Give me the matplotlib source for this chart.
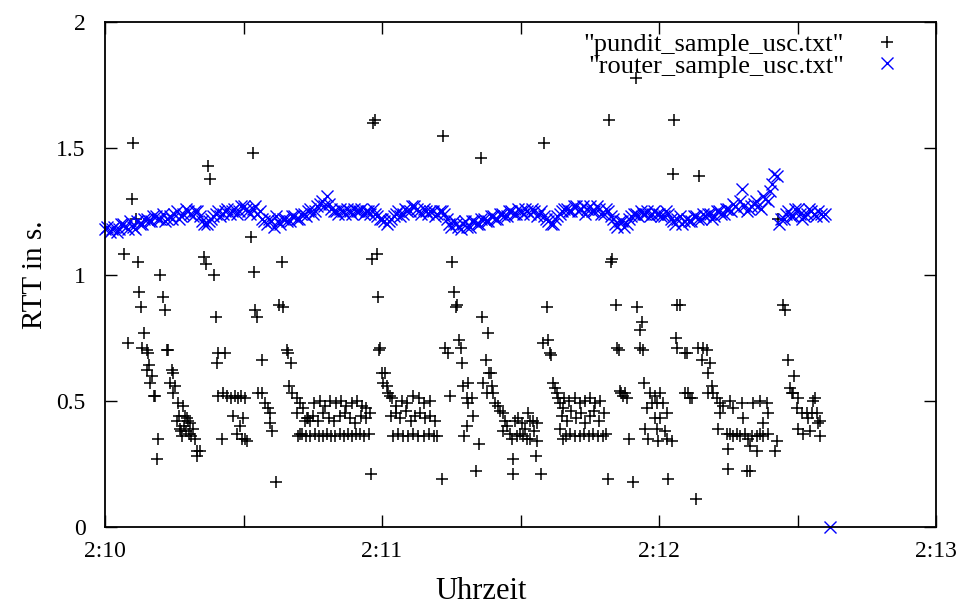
import numpy as np
import matplotlib
matplotlib.use('Agg')
import matplotlib.pyplot as plt

plt.rcParams['font.family'] = ['Liberation Serif', 'DejaVu Serif']

# router RTT, one sample per second from 2:10:00 (last sample reads 0)
router_rtt = [
    1.18, 1.17, 1.19, 1.18, 1.20, 1.18, 1.19, 1.21, 1.20, 1.22,
    1.21, 1.23, 1.22, 1.21, 1.23, 1.24, 1.22, 1.24, 1.25, 1.23,
    1.25, 1.21, 1.20, 1.22, 1.24, 1.23, 1.25, 1.24, 1.26, 1.25,
    1.27, 1.25, 1.26, 1.24, 1.22, 1.20, 1.21, 1.23, 1.20, 1.22,
    1.21, 1.23, 1.22, 1.24, 1.25, 1.24, 1.27, 1.29, 1.31, 1.26,
    1.25, 1.26, 1.24, 1.25, 1.26, 1.25, 1.24, 1.25, 1.26, 1.23,
    1.22, 1.20, 1.22, 1.24, 1.23, 1.26, 1.25, 1.27, 1.25, 1.26,
    1.24, 1.25, 1.24, 1.25, 1.22, 1.19, 1.20, 1.18, 1.21, 1.19,
    1.21, 1.20, 1.22, 1.21, 1.23, 1.22, 1.24, 1.23, 1.25, 1.24,
    1.25, 1.26, 1.24, 1.25, 1.24, 1.23, 1.21, 1.20, 1.23, 1.25,
    1.26, 1.25, 1.27, 1.26, 1.24, 1.27, 1.25, 1.26, 1.24, 1.25,
    1.22, 1.19, 1.21, 1.20, 1.23, 1.24, 1.25, 1.24, 1.23, 1.25,
    1.24, 1.23, 1.24, 1.21, 1.22, 1.20, 1.22, 1.21, 1.23, 1.22,
    1.23, 1.24, 1.23, 1.25, 1.24, 1.26, 1.28, 1.26, 1.34, 1.25,
    1.27, 1.29, 1.26, 1.30, 1.33, 1.40, 1.20, 1.22, 1.25, 1.23,
    1.26, 1.22, 1.24, 1.25, 1.23, 1.24, 1.24, 0.00,
]
# the samples in between (half a second later)
router_rtt_half = [
    1.19, 1.18, 1.17, 1.20, 1.19, 1.21, 1.18, 1.20, 1.22, 1.21,
    1.23, 1.22, 1.24, 1.22, 1.22, 1.25, 1.23, 1.26, 1.24, 1.25,
    1.23, 1.20, 1.21, 1.23, 1.25, 1.24, 1.26, 1.25, 1.24, 1.27,
    1.26, 1.24, 1.27, 1.25, 1.21, 1.22, 1.19, 1.21, 1.22, 1.21,
    1.23, 1.22, 1.24, 1.23, 1.26, 1.25, 1.28, 1.27, 1.28, 1.25,
    1.24, 1.25, 1.26, 1.24, 1.25, 1.26, 1.25, 1.24, 1.24, 1.22,
    1.21, 1.21, 1.23, 1.25, 1.24, 1.25, 1.27, 1.26, 1.24, 1.25,
    1.25, 1.23, 1.25, 1.24, 1.20, 1.21, 1.19, 1.20, 1.19, 1.21,
    1.20, 1.22, 1.21, 1.23, 1.22, 1.24, 1.23, 1.25, 1.24, 1.26,
    1.24, 1.25, 1.26, 1.23, 1.25, 1.22, 1.20, 1.22, 1.24, 1.26,
    1.25, 1.27, 1.25, 1.27, 1.26, 1.25, 1.27, 1.24, 1.26, 1.23,
    1.20, 1.21, 1.19, 1.22, 1.24, 1.23, 1.24, 1.25, 1.24, 1.24,
    1.23, 1.25, 1.22, 1.20, 1.23, 1.21, 1.21, 1.23, 1.22, 1.24,
    1.24, 1.22, 1.25, 1.24, 1.26, 1.25, 1.27, 1.29, 1.27, 1.26,
    1.28, 1.27, 1.31, 1.29, 1.36, 1.39, 1.22, 1.24, 1.23, 1.26,
    1.24, 1.23, 1.26, 1.24, 1.25, 1.23,
]

# pundit samples (seconds after 2:10:00, RTT) grouped by burst
burst_a = [(4.1, 1.08), (7.1, 1.05), (6.1, 1.52), (5.8, 1.30), (6.7, 1.22), (11.9, 1.00),
           (7.4, 0.93), (7.8, 0.87), (12.6, 0.91), (13.0, 0.86), (8.4, 0.77), (5.0, 0.73),
           (8.0, 0.71), (9.1, 0.70), (9.3, 0.69), (13.4, 0.70), (13.6, 0.70), (9.5, 0.64),
           (9.1, 0.62), (10.2, 0.60), (9.7, 0.57), (10.6, 0.52), (10.8, 0.52), (14.5, 0.62),
           (14.7, 0.61), (14.1, 0.57), (15.2, 0.56), (14.7, 0.53), (15.8, 0.49), (16.9, 0.48),
           (17.3, 0.44), (15.6, 0.42), (16.2, 0.39), (16.7, 0.36), (17.8, 0.43), (18.4, 0.41),
           (19.1, 0.39), (19.5, 0.35), (19.9, 0.30), (20.6, 0.30), (19.9, 0.28), (11.5, 0.35),
           (11.3, 0.27), (17.1, 0.40), (17.5, 0.38), (18.2, 0.37), (18.6, 0.36), (18.0, 0.42),
           (16.0, 0.44), (16.5, 0.38)]
burst_b = [(21.4, 1.07), (21.9, 1.04), (22.3, 1.43), (22.7, 1.38), (23.6, 1.00), (24.0, 0.83),
           (24.5, 0.69), (26.0, 0.69), (24.3, 0.65), (24.5, 0.52), (25.5, 0.53), (26.4, 0.52),
           (27.3, 0.51), (28.1, 0.52), (28.8, 0.51), (29.5, 0.52), (30.3, 0.51), (27.7, 0.44),
           (29.9, 0.43), (29.2, 0.40), (28.6, 0.37), (29.7, 0.35), (30.8, 0.34), (30.3, 0.35),
           (25.3, 0.35), (31.6, 1.15), (32.3, 1.01)]
burst_c = [(32.1, 1.48), (32.5, 0.86), (32.9, 0.83), (34.0, 0.66), (33.1, 0.53), (34.0, 0.53),
           (34.7, 0.49), (35.3, 0.47), (35.7, 0.45), (35.7, 0.41), (36.2, 0.38), (37.0, 0.18),
           (38.3, 1.05), (37.7, 0.88), (38.6, 0.87), (39.4, 0.70), (39.6, 0.69), (40.3, 0.65),
           (39.9, 0.56), (40.5, 0.53), (41.6, 0.51), (42.2, 0.49), (42.9, 0.47), (41.6, 0.45),
           (43.8, 0.43), (42.2, 0.37), (43.3, 0.42), (44.4, 0.42)]
band_d = [(45.2, 0.49), (46.5, 0.50), (47.6, 0.48), (48.8, 0.50), (50.0, 0.49), (51.1, 0.50),
          (52.3, 0.48), (53.4, 0.49), (54.6, 0.50), (55.7, 0.48), (56.6, 0.47),
          (43.9, 0.43), (45.0, 0.44), (46.2, 0.42), (47.3, 0.45), (48.5, 0.43), (49.6, 0.42),
          (50.8, 0.44), (51.9, 0.45), (53.1, 0.43), (54.2, 0.41), (55.4, 0.44), (56.5, 0.43),
          (57.3, 0.45),
          (41.8, 0.36), (42.7, 0.37), (43.6, 0.36), (44.5, 0.36), (45.4, 0.37), (46.3, 0.36),
          (47.2, 0.36), (48.1, 0.37), (49.0, 0.36), (49.9, 0.36), (50.8, 0.37), (51.7, 0.36),
          (52.6, 0.37), (53.5, 0.36), (54.4, 0.37), (55.3, 0.37), (56.2, 0.36), (57.1, 0.37),
          (57.6, 0.21)]
burst_e = [(58.0, 1.60), (58.5, 1.61), (57.8, 1.06), (58.9, 1.08), (59.1, 0.91), (59.6, 0.71),
           (59.3, 0.70), (60.0, 0.61), (60.6, 0.61), (60.2, 0.57), (61.1, 0.56), (61.3, 0.53),
           (61.7, 0.52), (62.2, 0.51)]
band_f = [(63.0, 0.48), (64.3, 0.50), (65.5, 0.49), (66.7, 0.52), (68.0, 0.51), (69.2, 0.49),
          (70.4, 0.50),
          (61.9, 0.44), (63.0, 0.45), (64.0, 0.43), (65.1, 0.46), (66.2, 0.42), (67.2, 0.44),
          (68.3, 0.45), (69.4, 0.43), (70.4, 0.44), (71.5, 0.42),
          (62.4, 0.36), (63.5, 0.37), (64.6, 0.36), (65.7, 0.36), (66.8, 0.37), (67.9, 0.36),
          (69.0, 0.36), (70.1, 0.37), (71.2, 0.36), (71.9, 0.36), (73.0, 0.19)]
burst_g = [(73.2, 1.55), (75.2, 1.05), (75.6, 0.93), (76.2, 0.88), (76.0, 0.87), (73.6, 0.71),
           (74.3, 0.69), (76.7, 0.74), (77.1, 0.71), (77.3, 0.65), (81.4, 1.46), (81.7, 0.83),
           (83.0, 0.77), (74.7, 0.52), (77.5, 0.56), (78.6, 0.57), (78.4, 0.51), (79.5, 0.51),
           (78.6, 0.49), (79.7, 0.44), (78.4, 0.40), (77.8, 0.36), (81.0, 0.33), (80.4, 0.22),
           (82.5, 0.66), (83.2, 0.61), (83.6, 0.61), (81.9, 0.57), (82.8, 0.53), (83.8, 0.56),
           (84.0, 0.53), (84.5, 0.49), (85.1, 0.48), (85.6, 0.46), (86.2, 0.45), (86.6, 0.42),
           (87.1, 0.40), (86.2, 0.38), (88.2, 0.35), (88.8, 0.42), (89.5, 0.43), (90.3, 0.41),
           (91.0, 0.39), (92.1, 0.42), (92.7, 0.42), (93.6, 0.41), (92.1, 0.35), (93.6, 0.34),
           (91.4, 0.35), (89.9, 0.37), (88.4, 0.27), (88.4, 0.21), (93.4, 0.28), (94.4, 0.21),
           (87.7, 0.37), (89.2, 0.36), (90.5, 0.36), (91.6, 0.45), (93.0, 0.38)]
burst_h = [(95.1, 1.52), (95.7, 0.87), (94.9, 0.73), (96.0, 0.74), (96.4, 0.69), (96.6, 0.68),
           (97.0, 0.57), (97.5, 0.55), (97.9, 0.53), (98.1, 0.51), (98.6, 0.49), (99.2, 0.47),
           (98.6, 0.39), (99.2, 0.35),
           (99.5, 0.51), (100.6, 0.50), (101.7, 0.51), (102.8, 0.49), (103.9, 0.50), (105.0, 0.51),
           (106.1, 0.49), (107.2, 0.50),
           (99.0, 0.44), (100.0, 0.42), (101.0, 0.46), (102.0, 0.43), (103.0, 0.45), (104.0, 0.41),
           (105.0, 0.44), (106.0, 0.46), (107.0, 0.42), (108.0, 0.45),
           (99.8, 0.36), (100.8, 0.37), (101.8, 0.36), (102.8, 0.36), (103.8, 0.37), (104.8, 0.36),
           (105.8, 0.37), (106.8, 0.36), (107.8, 0.36), (108.6, 0.37),
           (108.9, 0.19), (109.1, 1.61), (109.8, 1.06), (109.6, 1.05), (110.7, 0.88), (110.9, 0.71),
           (111.3, 0.70), (111.5, 0.54), (112.6, 0.53), (113.1, 0.51), (112.2, 0.52), (111.8, 0.53),
           (113.5, 0.35)]
burst_i = [(115.0, 1.78), (115.3, 0.87), (116.3, 0.81), (115.9, 0.78), (115.9, 0.71), (116.5, 0.70),
           (114.4, 0.18), (116.7, 0.57), (118.0, 0.53), (119.1, 0.52), (120.2, 0.53), (118.5, 0.49),
           (119.6, 0.49), (120.9, 0.49), (117.4, 0.47), (119.1, 0.43), (120.2, 0.43), (121.7, 0.45),
           (117.0, 0.39), (119.6, 0.39), (121.3, 0.38), (117.6, 0.35), (119.8, 0.34), (121.7, 0.35),
           (122.8, 0.34), (121.9, 0.19), (123.2, 1.61), (123.0, 1.40), (128.7, 1.39), (124.0, 0.88),
           (124.5, 0.88), (123.7, 0.75), (124.0, 0.71), (125.6, 0.69), (126.1, 0.69), (125.6, 0.53),
           (126.3, 0.53), (126.7, 0.51), (127.1, 0.51), (127.9, 0.11)]
burst_j = [(128.4, 0.71), (129.5, 0.71), (130.4, 0.70), (129.3, 0.66), (131.0, 0.65), (130.6, 0.61),
           (131.5, 0.56), (130.6, 0.53), (131.7, 0.53), (132.6, 0.51), (133.2, 0.49), (133.9, 0.48),
           (133.2, 0.45), (132.8, 0.39), (134.7, 0.37), (135.4, 0.37), (136.0, 0.36), (136.9, 0.37),
           (137.5, 0.36), (138.6, 0.37), (139.3, 0.35), (140.1, 0.36), (141.2, 0.36), (141.9, 0.37),
           (142.5, 0.36), (143.6, 0.37), (134.9, 0.31), (141.2, 0.30), (145.6, 0.34), (145.1, 0.30),
           (139.7, 0.32), (135.4, 0.50), (136.0, 0.47), (138.0, 0.49), (138.2, 0.43), (140.4, 0.49),
           (141.9, 0.50), (143.4, 0.49), (143.6, 0.45), (142.5, 0.41), (134.9, 0.23), (139.1, 0.22),
           (139.7, 0.22), (145.8, 1.22)]
burst_k = [(146.9, 0.88), (147.3, 0.86), (148.0, 0.66), (149.2, 0.60), (148.4, 0.55), (148.8, 0.53),
           (149.0, 0.53), (150.1, 0.51), (153.3, 0.50), (153.8, 0.51), (149.9, 0.47), (151.0, 0.45),
           (152.1, 0.45), (153.1, 0.45), (154.2, 0.45), (154.9, 0.42), (150.1, 0.39), (151.2, 0.37),
           (152.7, 0.38), (154.9, 0.36), (154.4, 0.41), (152.3, 0.43)]

x_ticks = [0, 60, 120, 180]
x_ticklabels = ['2:10', '2:11', '2:12', '2:13']
y_ticks = [0, 0.5, 1, 1.5, 2]
y_ticklabels = ['0', '0.5', '1', '1.5', '2']

pundit = np.array(burst_a + burst_b + burst_c + band_d + burst_e + band_f +
                  burst_g + burst_h + burst_i + burst_j + burst_k)
router_t = np.concatenate([np.arange(len(router_rtt)), np.arange(len(router_rtt_half)) + 0.5])
router_v = np.array(router_rtt + router_rtt_half)

fig = plt.figure(figsize=(9.65, 6.08), dpi=100)
ax = fig.add_axes([0.1088, 0.1332, 0.8612, 0.8306])

ax.plot(pundit[:, 0], pundit[:, 1], linestyle='none', marker='+', color='black',
        markersize=8, markeredgewidth=1.1, label='"pundit_sample_usc.txt"')
ax.plot(router_t, router_v, linestyle='none', marker='x', color='#0000ff',
        markersize=8.5, markeredgewidth=1.0, label='"router_sample_usc.txt"', clip_on=False)

ax.set_xlim(0, 180)
ax.set_ylim(0, 2)
ax.set_xticks(x_ticks)
ax.set_xticklabels(x_ticklabels)
ax.set_xticks([30, 90, 150], minor=True)
ax.set_yticks(y_ticks)
ax.set_yticklabels(y_ticklabels)
ax.tick_params(which='both', direction='in', top=True, right=True, length=8.5, width=1.0,
               labelsize=17)
ax.tick_params(axis='x', pad=10)
ax.tick_params(axis='y', pad=14)
for s in ax.spines.values():
    s.set_linewidth(1.3)

ax.set_xlabel('Uhrzeit', fontsize=22)
ax.xaxis.set_label_coords(0.453, -0.098)
ax.set_ylabel('RTT in s.', fontsize=21)
ax.yaxis.set_label_coords(-0.068, 0.5)

ax.legend(loc='upper right', bbox_to_anchor=(0.978, 1.0), frameon=False, markerfirst=False,
          fontsize=19, labelspacing=-0.07, handlelength=1.5, handletextpad=0.9,
          borderaxespad=0.0)

fig.savefig('out.png', dpi=100)
